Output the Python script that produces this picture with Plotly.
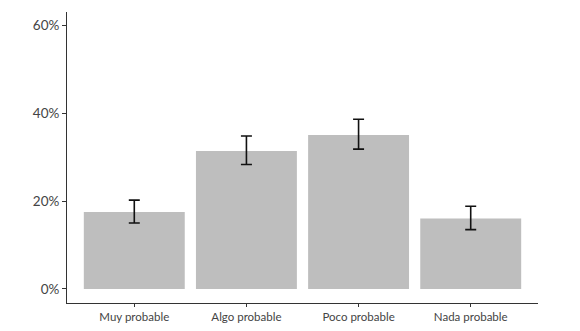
import plotly.graph_objects as go

categories = ["Muy probable", "Algo probable", "Poco probable", "Nada probable"]
values = [17.5, 31.4, 35.0, 16.0]
err_hi = [20.2, 34.8, 38.6, 18.8]
err_lo = [15.0, 28.3, 31.8, 13.5]
y_ticks = [0, 20, 40, 60]
y_labels = ["0%", "20%", "40%", "60%"]

plus = [h - v for h, v in zip(err_hi, values)]
minus = [v - l for v, l in zip(values, err_lo)]

fig = go.Figure(go.Bar(
    x=categories, y=values, width=0.9,
    marker=dict(color="#bebebe", line=dict(width=0)),
    error_y=dict(type="data", symmetric=False, array=plus, arrayminus=minus,
                 color="#111111", thickness=1.6, width=5.5),
))
# page body has an 8px margin, so the figure is sized/margined to compensate
fig.update_layout(
    width=572, height=323, margin=dict(l=59, r=42, t=4, b=28, autoexpand=False),
    paper_bgcolor="white", plot_bgcolor="white", showlegend=False,
    font=dict(family="Lato, sans-serif", color="#333333"),
)
fig.update_xaxes(range=[-0.6, 3.6], showline=True, linecolor="#333333", linewidth=1,
                 ticks="outside", ticklen=3, tickcolor="#333333", automargin=False,
                 tickfont=dict(size=11.5, color="#444444"), showgrid=False)
fig.update_yaxes(range=[-3.2, 63], showline=True, linecolor="#333333", linewidth=1,
                 ticks="outside", ticklen=4, tickcolor="#333333", automargin=False,
                 tickvals=y_ticks, ticktext=y_labels,
                 tickfont=dict(size=13.5, color="#444444"), showgrid=False, zeroline=False)
fig.write_html("out.html")
